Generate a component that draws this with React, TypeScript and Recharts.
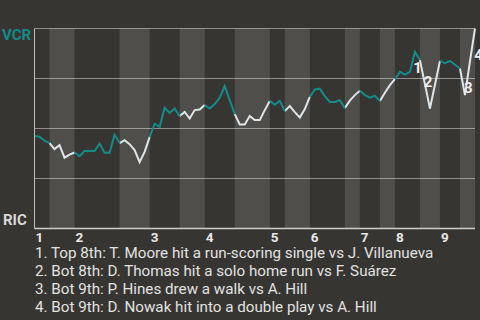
import React from 'react';
import { LineChart, Line, XAxis, YAxis, CartesianGrid, ReferenceArea } from 'recharts';

// VCR win probability (%) after each play
const winProb: number[] = [
  46.2, 45.9, 43.9, 42.7, 39.7, 41.7, 35.4, 36.9, 38.0, 36.2,
  38.7, 38.7, 38.7, 42.4, 37.9, 37.9, 46.9, 42.7, 44.2, 42.2,
  39.2, 33.2, 38.3, 45.7, 52.4, 50.8, 60.4, 57.8, 60.0, 56.2,
  58.3, 55.0, 59.2, 59.5, 61.7, 60.0, 62.2, 65.4, 71.2, 64.2,
  57.2, 52.0, 52.0, 56.2, 54.2, 54.2, 59.2, 63.8, 61.9, 63.8,
  58.7, 61.2, 58.2, 55.5, 59.7, 65.8, 69.5, 69.9, 66.2, 63.3,
  63.3, 64.2, 60.2, 63.9, 66.7, 68.9, 66.7, 65.4, 66.4, 63.7,
  67.9, 71.7, 74.7, 78.3, 76.9, 78.3, 88.3, 84.2, 72.2, 60.0,
  71.9, 83.8, 82.7, 83.8, 81.9, 80.0, 66.7, 83.7, 100.0,
];

// play index where each half-inning starts (last entry = final play)
const halfInningBounds: number[] = [0, 3, 8, 17, 23, 29, 34, 40, 47, 50, 55, 62, 65, 69, 72, 77, 81, 85, 88];
const inningLabels: string[] = ['1', '2', '3', '4', '5', '6', '7', '8', '9'];
const teamTop = 'VCR';
const teamBottom = 'RIC';
const yTicks: number[] = [0, 25, 50, 75, 100];

const eventPlays: number[] = [76, 78, 86, 88];
const eventMarks: string[] = ['1', '2', '3', '4'];
const eventNotes: string[] = [
  '1. Top 8th: T. Moore hit a run-scoring single vs J. Villanueva',
  '2. Bot 8th: D. Thomas hit a solo home run vs F. Suárez',
  '3. Bot 9th: P. Hines drew a walk vs A. Hill',
  '4. Bot 9th: D. Nowak hit into a double play vs A. Hill',
];

const TEAL = '#148b8b';
const WHITE = '#dfe5e8';
const BG = '#373531';

const halves = halfInningBounds.slice(0, -1).map((s, k) => ({
  start: s,
  end: halfInningBounds[k + 1],
  top: k % 2 === 0,
}));

const data = winProb.map((p, i) => {
  const inTop = halves.some((h) => h.top && i >= h.start && i <= h.end);
  const inBot = halves.some((h) => !h.top && i >= h.start && i <= h.end);
  const ev = eventPlays.indexOf(i);
  return {
    i,
    p,
    topP: inTop ? p : null,
    botP: inBot ? p : null,
    mark: ev >= 0 ? eventMarks[ev] : null,
  };
});

const inningStarts = halves.filter((h) => h.top).map((h) => h.start);

// label placement offsets (styling)
const markOffsets: Record<string, [number, number]> = {
  '1': [2.5, 20.8],
  '2': [3, 2.6],
  '3': [3.3, -1.8],
  '4': [3.5, 31.5],
};

const XTick = (props: any) => {
  const { x, y, payload } = props;
  const idx = inningStarts.indexOf(payload.value);
  return (
    <text x={x + 1} y={y + 13.2} textAnchor="start" fill="#e8e8e8" fontFamily="Roboto" fontWeight="bold" fontSize={13.5}>
      {inningLabels[idx]}
    </text>
  );
};

const YTick = (props: any) => {
  const { y, payload } = props;
  if (payload.value === 100) {
    return (
      <text x={2} y={y + 11} fill={TEAL} fontFamily="Roboto" fontWeight="bold" fontSize={15}>
        {teamTop}
      </text>
    );
  }
  if (payload.value === 0) {
    return (
      <text x={3} y={y - 3.5} fill="#d8d8d8" fontFamily="Roboto" fontWeight="bold" fontSize={15}>
        {teamBottom}
      </text>
    );
  }
  return <g />;
};

const MarkDot = (props: any) => {
  const { cx, cy, payload, index } = props;
  if (!payload.mark) return <g key={`m${index}`} />;
  const [dx, dy] = markOffsets[payload.mark] || [0, 0];
  return (
    <text key={`m${index}`} x={cx + dx} y={cy + dy} textAnchor="middle" fill="#eeeeee" fontFamily="Roboto" fontWeight="bold" fontSize={15}>
      {payload.mark}
    </text>
  );
};

export default function App() {
  return (
    <div style={{ position: 'absolute', left: 0, top: 0, width: 480, height: 320, background: BG, overflow: 'hidden' }}>
      <div style={{ position: 'absolute', left: 0, top: 0 }}>
        <LineChart width={480} height={244} data={data} margin={{ top: 28.5, right: 5, bottom: 0, left: 0 }}>
          <XAxis
            dataKey="i"
            type="number"
            domain={[0, halfInningBounds[halfInningBounds.length - 1]]}
            ticks={inningStarts}
            tick={<XTick />}
            tickLine={false}
            tickSize={0}
            tickMargin={0}
            height={15.5}
            axisLine={{ stroke: '#cdcdcd', strokeWidth: 1.5 }}
            interval={0}
          />
          <YAxis
            type="number"
            domain={[0, 100]}
            ticks={yTicks}
            tick={<YTick />}
            tickLine={false}
            width={34.5}
            axisLine={{ stroke: '#bcbcbc' }}
            interval={0}
          />
          {halves.filter((h) => !h.top).map((h) => (
            <ReferenceArea key={h.start} x1={h.start} x2={h.end} y1={0} y2={100} fill="#ffffff" fillOpacity={0.125} stroke="none" />
          ))}
          <CartesianGrid vertical={false} stroke="#8e8e8e" horizontalValues={yTicks} />
          <Line dataKey="botP" type="linear" stroke={WHITE} strokeWidth={2} dot={false} isAnimationActive={false} connectNulls={false} />
          <Line dataKey="topP" type="linear" stroke={TEAL} strokeWidth={2} dot={false} isAnimationActive={false} connectNulls={false} />
          <Line dataKey="p" type="linear" stroke="none" dot={<MarkDot />} activeDot={false} isAnimationActive={false} />
        </LineChart>
      </div>
      <svg width={480} height={320} style={{ position: 'absolute', left: 0, top: 0, pointerEvents: 'none' }}>
        {eventNotes.map((t, k) => (
          <text key={k} x={35} y={258.3 + k * 17.8} fill="#e2e2e2" fontFamily="Roboto" fontSize={15.2}>
            {t}
          </text>
        ))}
      </svg>
    </div>
  );
}
